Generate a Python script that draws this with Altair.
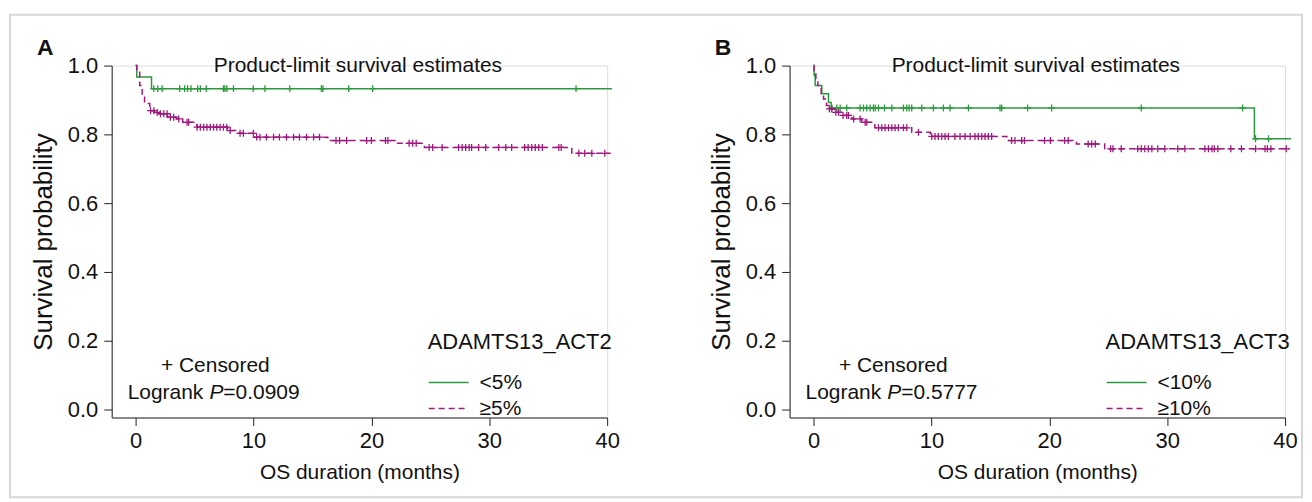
import altair as alt
import pandas as pd

FONT = "Liberation Sans"
GREEN = "#2A9A3C"
MAGENTA = "#A0187F"

# ---------------- Panel A data ----------------
a_labels = ["<5%", "\u22655%"]
a_green_t = [0, 0.1, 1.35]
a_green_s = [1.0, 0.967, 0.933]
a_green_end = 40.4
a_green_cens = [1.54, 1.88, 2.25, 3.74, 4.16, 4.41, 4.70, 5.26, 5.49, 5.99, 7.45, 7.57,
                7.74, 8.30, 9.98, 10.97, 13.08, 15.76, 15.89, 18.08, 20.11, 37.36]
a_mag_t = [0, 0.1, 0.35, 0.56, 0.76, 1.2, 1.6, 2.0, 2.7, 3.5, 4.0, 5.2, 7.8, 8.5, 10.0,
           16.3, 22.0, 24.5, 37.0]
a_mag_s = [1.0, 0.985, 0.942, 0.908, 0.890, 0.869, 0.864, 0.860, 0.850, 0.845, 0.835,
           0.821, 0.811, 0.803, 0.792, 0.782, 0.774, 0.762, 0.745]
a_mag_end = 40.3
a_mag_cens = [1.27, 1.55, 1.83, 2.11, 2.39, 2.67, 2.95, 3.23, 3.66, 4.36, 4.5, 5.21, 5.49,
              5.77, 6.05, 6.33, 6.61, 6.89, 7.17, 7.45, 7.74, 8.02, 8.86, 9.14, 9.99, 10.27,
              10.55, 11.1, 11.7, 12.2, 12.8, 13.4, 13.9, 14.5, 15.1, 15.6, 17.0, 17.3, 17.9,
              19.6, 20.0, 21.2, 21.4, 23.2, 23.5, 23.8, 24.9, 25.2, 26.0, 27.4, 27.7, 28.0,
              28.3, 28.5, 29.1, 29.7, 30.8, 31.4, 31.9, 33.0, 33.3, 33.6, 33.9, 34.2, 34.5,
              35.9, 36.1, 37.6, 38.1, 38.7, 39.8]

# ---------------- Panel B data ----------------
b_labels = ["<10%", "\u226510%"]
b_green_t = [0, 0.05, 0.14, 0.70, 1.27, 1.5, 37.4]
b_green_s = [1.0, 0.971, 0.942, 0.918, 0.893, 0.877, 0.787]
b_green_end = 40.5
b_green_cens = [1.55, 1.98, 2.26, 2.82, 3.95, 4.24, 4.52, 4.80, 5.08, 5.23, 5.51, 6.02,
                6.64, 7.63, 7.91, 8.11, 8.33, 9.18, 10.17, 11.02, 11.58, 13.14, 15.82,
                15.96, 18.16, 20.2, 27.8, 36.4, 37.5, 38.6]
b_mag_t = [0, 0.05, 0.2, 0.37, 0.65, 0.85, 1.1, 1.3, 1.8, 2.4, 3.25, 4.1, 5.2, 8.33, 9.9,
           16.4, 22.3, 24.7]
b_mag_s = [1.0, 0.985, 0.961, 0.942, 0.918, 0.903, 0.884, 0.874, 0.864, 0.855, 0.845,
           0.835, 0.819, 0.806, 0.794, 0.782, 0.772, 0.758]
b_mag_end = 40.4
b_mag_cens = [1.35, 1.55, 1.89, 2.12, 2.5, 2.82, 2.97, 3.4, 3.95, 4.38, 4.52, 5.51, 5.79,
              6.07, 6.36, 6.64, 6.92, 7.2, 7.63, 7.91, 8.9, 10.03, 10.31, 10.59, 10.88,
              11.16, 11.44, 12.0, 12.43, 12.85, 13.28, 13.7, 13.98, 14.27, 14.55, 14.83,
              15.11, 16.8, 17.09, 17.66, 17.9, 19.6, 20.1, 21.3, 21.6, 23.3, 23.6, 23.9,
              25.2, 25.4, 26.1, 27.5, 27.8, 28.1, 28.4, 28.7, 29.2, 29.8, 30.9, 31.5, 33.2,
              33.5, 33.8, 34.0, 34.3, 35.4, 36.3, 37.5, 38.3, 38.5, 38.8, 40.1]

x_ticks = [0, 10, 20, 30, 40]
y_ticks = [0.0, 0.2, 0.4, 0.6, 0.8, 1.0]

W, H = 497, 353
PLUS = "M-1,0L1,0M0,-1L0,1"


def step_rows(t, s, end, g):
    rows = [{"t": ti, "s": si, "g": g} for ti, si in zip(t, s)]
    rows.append({"t": end, "s": s[-1], "g": g})
    return rows


def surv_at(t, s, x):
    v = s[0]
    for ti, si in zip(t, s):
        if ti <= x:
            v = si
    return v


def panel(letter, labels, legend_title, pval, gt, gs, gend, gc, mt, ms, mend, mc, frame=False):
    lines = pd.DataFrame(step_rows(gt, gs, gend, labels[0]) + step_rows(mt, ms, mend, labels[1]))
    cg = pd.DataFrame({"t": gc, "s": [surv_at(gt, gs, c) for c in gc]})
    cm = pd.DataFrame({"t": mc, "s": [surv_at(mt, ms, c) for c in mc]})

    xs = alt.Scale(domain=[-2.03, 40], nice=False, zero=False)
    ys = alt.Scale(domain=[-0.023, 1.0], nice=False, zero=False)
    xax = alt.Axis(values=x_ticks, title="OS duration (months)", grid=False, tickSize=8,
                   labelPadding=5, titlePadding=10, labelFontSize=22, titleFontSize=21,
                   titleFontWeight="normal", domainColor="#222", tickColor="#222",
                   labelColor="#111", titleColor="#111", labelFont=FONT, titleFont=FONT,
                   labelFlush=False)
    yax = alt.Axis(values=y_ticks, format=".1f", title="Survival probability", grid=False,
                   tickSize=8, labelPadding=6, titlePadding=11, labelFontSize=22,
                   titleFontSize=26, titleFontWeight="normal", domainColor="#222",
                   tickColor="#222", labelColor="#111", titleColor="#111", labelFont=FONT,
                   titleFont=FONT, labelFlush=False)

    leg = alt.Legend(title=legend_title, orient="none", legendX=317, legendY=267,
                     titleFontSize=22, titleFont=FONT, titleFontWeight="normal",
                     titleColor="#111", titleLimit=400, labelFontSize=21, labelFont=FONT,
                     labelColor="#111", labelLimit=200,
                     symbolType="stroke", symbolSize=1600, symbolStrokeWidth=1.5,
                     labelOffset=10, rowPadding=0, clipHeight=26, titlePadding=16, padding=0)

    base_line = alt.Chart(lines).mark_line(interpolate="step-after", strokeWidth=1.5,
                                            clip=False).encode(
        x=alt.X("t:Q", scale=xs, axis=xax),
        y=alt.Y("s:Q", scale=ys, axis=yax),
        color=alt.Color("g:N", scale=alt.Scale(domain=labels, range=[GREEN, MAGENTA]),
                        sort=labels, legend=leg),
        strokeDash=alt.StrokeDash("g:N", scale=alt.Scale(domain=labels, range=[[1, 0], [6, 4]]),
                                  sort=labels, legend=leg),
        detail="g:N",
    )
    pts_g = alt.Chart(cg).mark_point(shape=PLUS, size=49, filled=False, strokeWidth=1.3,
                                     color=GREEN, opacity=1, clip=False).encode(
        x=alt.X("t:Q", scale=xs), y=alt.Y("s:Q", scale=ys))
    pts_m = alt.Chart(cm).mark_point(shape=PLUS, size=49, filled=False, strokeWidth=1.3,
                                     color=MAGENTA, opacity=1, clip=False).encode(
        x=alt.X("t:Q", scale=xs), y=alt.Y("s:Q", scale=ys))

    one = pd.DataFrame({"k": [0]})

    def txt(s, x, y, size=21, align="left", weight="normal", style="normal"):
        return alt.Chart(one).mark_text(text=s, font=FONT, fontSize=size, align=align,
                                        baseline="alphabetic", fontWeight=weight,
                                        fontStyle=style, color="#111").encode(
            x=alt.value(x), y=alt.value(y))

    layers = []
    if frame:
        layers.append(alt.Chart(one).mark_rect(filled=False, stroke="#d6d6d6",
                                               strokeWidth=2).encode(
            x=alt.value(-102), x2=alt.value(1194), y=alt.value(-51), y2=alt.value(433)))
    layers += [base_line, pts_g, pts_m,
               txt(letter, -75, -11, size=23, weight="bold"),
               txt("Product-limit survival estimates", 247, 6, size=21, align="center"),
               txt("+ Censored", 104, 307, align="center"),
               txt("Logrank ", 16, 334),
               txt("P", 16 + 82, 334, style="italic"),
               txt("=" + pval, 16 + 82 + 14, 334)]
    return alt.layer(*layers).properties(width=W, height=H)


pa = panel("A", a_labels, "ADAMTS13_ACT2", "0.0909", a_green_t, a_green_s, a_green_end,
           a_green_cens, a_mag_t, a_mag_s, a_mag_end, a_mag_cens, frame=True)
pb = panel("B", b_labels, "ADAMTS13_ACT3", "0.5777", b_green_t, b_green_s, b_green_end,
           b_green_cens, b_mag_t, b_mag_s, b_mag_end, b_mag_cens)

chart = alt.hconcat(pa, pb, spacing=183, bounds="flush").resolve_scale(
    color="independent", strokeDash="independent", x="independent", y="independent"
).resolve_legend(color="independent", strokeDash="independent").properties(
    padding={"left": 0, "top": 4, "right": 0, "bottom": 0}
).configure_view(stroke=None).configure(font=FONT, background="white")

chart.save("out.html", embed_options={"renderer": "svg", "actions": False})
